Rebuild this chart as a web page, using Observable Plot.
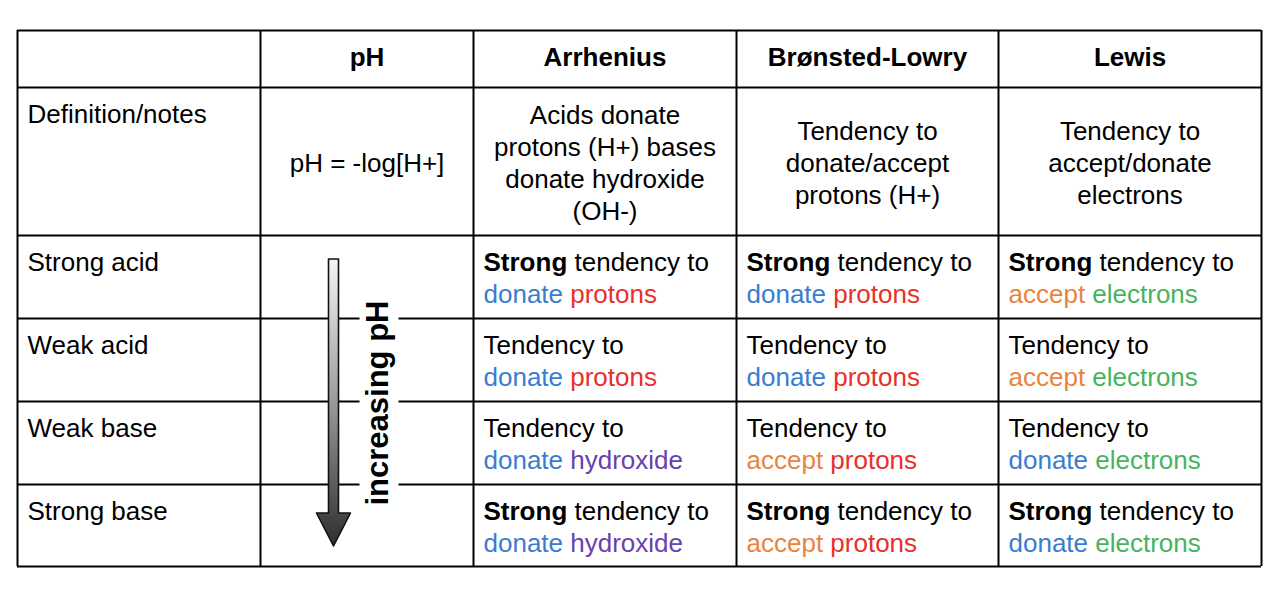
<!DOCTYPE html>
<html>
<head>
<meta charset="utf-8">
<script src="https://cdn.jsdelivr.net/npm/d3@7"></script>
<script src="https://cdn.jsdelivr.net/npm/@observablehq/plot@0.6"></script>
<style>
  html, body { margin: 0; padding: 0; background: #fff; }
  #chart svg { display: block; }
</style>
</head>
<body>
<div id="chart"></div>
<script>
// ---------- data ----------
const columns = ["", "pH", "Arrhenius", "Brønsted-Lowry", "Lewis"];
const rowLabels = ["Definition/notes", "Strong acid", "Weak acid", "Weak base", "Strong base"];
const definitions = [
  "pH = -log[H+]",
  "Acids donate\nprotons (H+) bases\ndonate hydroxide\n(OH-)",
  "Tendency to\ndonate/accept\nprotons (H+)",
  "Tendency to\naccept/donate\nelectrons"
];
const strongRows = [true, false, false, true];
const arrheniusVerb = ["donate", "donate", "donate", "donate"];
const arrheniusObject = ["protons", "protons", "hydroxide", "hydroxide"];
const bronstedVerb = ["donate", "donate", "accept", "accept"];
const bronstedObject = ["protons", "protons", "protons", "protons"];
const lewisVerb = ["accept", "accept", "donate", "donate"];
const lewisObject = ["electrons", "electrons", "electrons", "electrons"];
const arrowLabel = "increasing pH";
const wordColors = {
  donate: "#3a7dce",
  accept: "#e8843e",
  protons: "#e8302a",
  hydroxide: "#6a3fb0",
  electrons: "#48b35e"
};

// ---------- layout ----------
const W = 1280, H = 594;
const colEdges = [17, 260, 473, 736, 998, 1261];
const rowEdges = [30, 87, 235, 318, 401, 484, 566];
const FS = 26, LH = 32;
const FONT = "'Liberation Sans', Arial, Helvetica, sans-serif";

const ctx = document.createElement("canvas").getContext("2d");
function measure(t, bold) {
  ctx.font = `${bold ? "bold " : ""}${FS}px ${FONT}`;
  return ctx.measureText(t).width;
}

// grid lines
const vLines = colEdges.map(x => ({x, y1: rowEdges[0], y2: rowEdges[rowEdges.length - 1]}));
const hLines = rowEdges.map(y => ({y, x1: colEdges[0], x2: colEdges[colEdges.length - 1]}));

// header
const headers = columns.map((c, i) => ({text: c, x: (colEdges[i] + colEdges[i + 1]) / 2, y: (rowEdges[0] + rowEdges[1]) / 2 - 1})).filter(d => d.text);

// row labels
const labels = rowLabels.map((t, i) => ({text: t, x: colEdges[0] + 10, y: rowEdges[i + 1] + 27}));

// definitions (centered)
const defs = definitions.map((t, i) => ({text: t, x: (colEdges[i + 1] + colEdges[i + 2]) / 2, y: (rowEdges[1] + rowEdges[2]) / 2}));

// rich segments in body cells
const theories = [
  {col: 2, verbs: arrheniusVerb, objects: arrheniusObject},
  {col: 3, verbs: bronstedVerb, objects: bronstedObject},
  {col: 4, verbs: lewisVerb, objects: lewisObject}
];
const segments = [];
theories.forEach(th => {
  th.verbs.forEach((verb, r) => {
    const x0 = colEdges[th.col] + 10;
    const top = rowEdges[r + 2];
    const y1 = top + 27, y2 = y1 + LH;
    if (strongRows[r]) {
      segments.push({text: "Strong", x: x0, y: y1, bold: true, fill: "#000"});
      segments.push({text: "tendency to", x: x0 + measure("Strong", true) + measure(" ", false), y: y1, bold: false, fill: "#000"});
    } else {
      segments.push({text: "Tendency to", x: x0, y: y1, bold: false, fill: "#000"});
    }
    const obj = th.objects[r];
    segments.push({text: verb, x: x0, y: y2, bold: false, fill: wordColors[verb]});
    segments.push({text: obj, x: x0 + measure(verb + " ", false), y: y2, bold: false, fill: wordColors[obj]});
  });
});

// arrow geometry derived from layout
const phCenter = (colEdges[1] + colEdges[2]) / 2;
const ax = phCenter - 33;
const aTop = rowEdges[2] + 24, aNeck = rowEdges[6] - 53, aTip = rowEdges[6] - 20;
const arrow = [
  {y: aTop, x1: ax - 5, x2: ax + 5},
  {y: aNeck, x1: ax - 5, x2: ax + 5},
  {y: aNeck, x1: ax - 17, x2: ax + 17},
  {y: aTip, x1: ax, x2: ax}
];
const labelX = phCenter + 11;
const labelY = (rowEdges[2] + rowEdges[6]) / 2 + 2;
const knockout = [{x1: labelX - 18, x2: labelX + 21, y1: labelY - 112, y2: labelY + 112}];

const chart = Plot.plot({
  width: W, height: H,
  margin: 0,
  style: {fontFamily: FONT, background: "#fff"},
  x: {type: "linear", domain: [0, W], range: [0, W], axis: null},
  y: {type: "linear", domain: [0, H], range: [0, H], axis: null},
  color: {type: "identity"},
  marks: [
    Plot.ruleX(vLines, {x: "x", y1: "y1", y2: "y2", stroke: "#000", strokeWidth: 2}),
    Plot.ruleY(hLines, {y: "y", x1: "x1", x2: "x2", stroke: "#000", strokeWidth: 2}),
    Plot.rect(knockout, {x1: "x1", x2: "x2", y1: "y1", y2: "y2", fill: "#fff"}),
    Plot.areaX(arrow, {y: "y", x1: "x1", x2: "x2", fill: "#888", stroke: "#111", strokeWidth: 1.6, className: "ph-arrow"}),
    Plot.text([arrowLabel], {x: labelX, y: labelY, text: d => d, rotate: -90, fontSize: 31, fontWeight: "bold", fill: "#000", textAnchor: "middle", lineAnchor: "middle"}),
    Plot.text(headers, {x: "x", y: "y", text: "text", fontSize: FS, fontWeight: "bold", fill: "#000", textAnchor: "middle", lineAnchor: "middle"}),
    Plot.text(labels, {x: "x", y: "y", text: "text", fontSize: FS, fill: "#000", textAnchor: "start", lineAnchor: "middle"}),
    Plot.text(defs, {x: "x", y: "y", text: "text", fontSize: FS, fill: "#000", textAnchor: "middle", lineAnchor: "middle", lineHeight: LH / FS}),
    Plot.text(segments.filter(d => d.bold), {x: "x", y: "y", text: "text", fontSize: FS, fontWeight: "bold", fill: "fill", textAnchor: "start", lineAnchor: "middle"}),
    Plot.text(segments.filter(d => !d.bold), {x: "x", y: "y", text: "text", fontSize: FS, fill: "fill", textAnchor: "start", lineAnchor: "middle"})
  ]
});

// gradient for the arrow
const ns = "http://www.w3.org/2000/svg";
const defsEl = document.createElementNS(ns, "defs");
const grad = document.createElementNS(ns, "linearGradient");
grad.setAttribute("id", "phGrad");
grad.setAttribute("x1", "0"); grad.setAttribute("y1", "0");
grad.setAttribute("x2", "0"); grad.setAttribute("y2", "1");
[["0", "#f4f4f4"], ["0.5", "#9a9a9a"], ["1", "#2e2e2e"]].forEach(([o, c]) => {
  const s = document.createElementNS(ns, "stop");
  s.setAttribute("offset", o); s.setAttribute("stop-color", c);
  grad.appendChild(s);
});
defsEl.appendChild(grad);
chart.insertBefore(defsEl, chart.firstChild);
const arrowG = chart.querySelector(".ph-arrow");
if (arrowG) { arrowG.setAttribute("fill", "url(#phGrad)"); arrowG.querySelectorAll("path").forEach(p => p.setAttribute("fill", "url(#phGrad)")); }

document.getElementById("chart").appendChild(chart);
</script>
</body>
</html>
